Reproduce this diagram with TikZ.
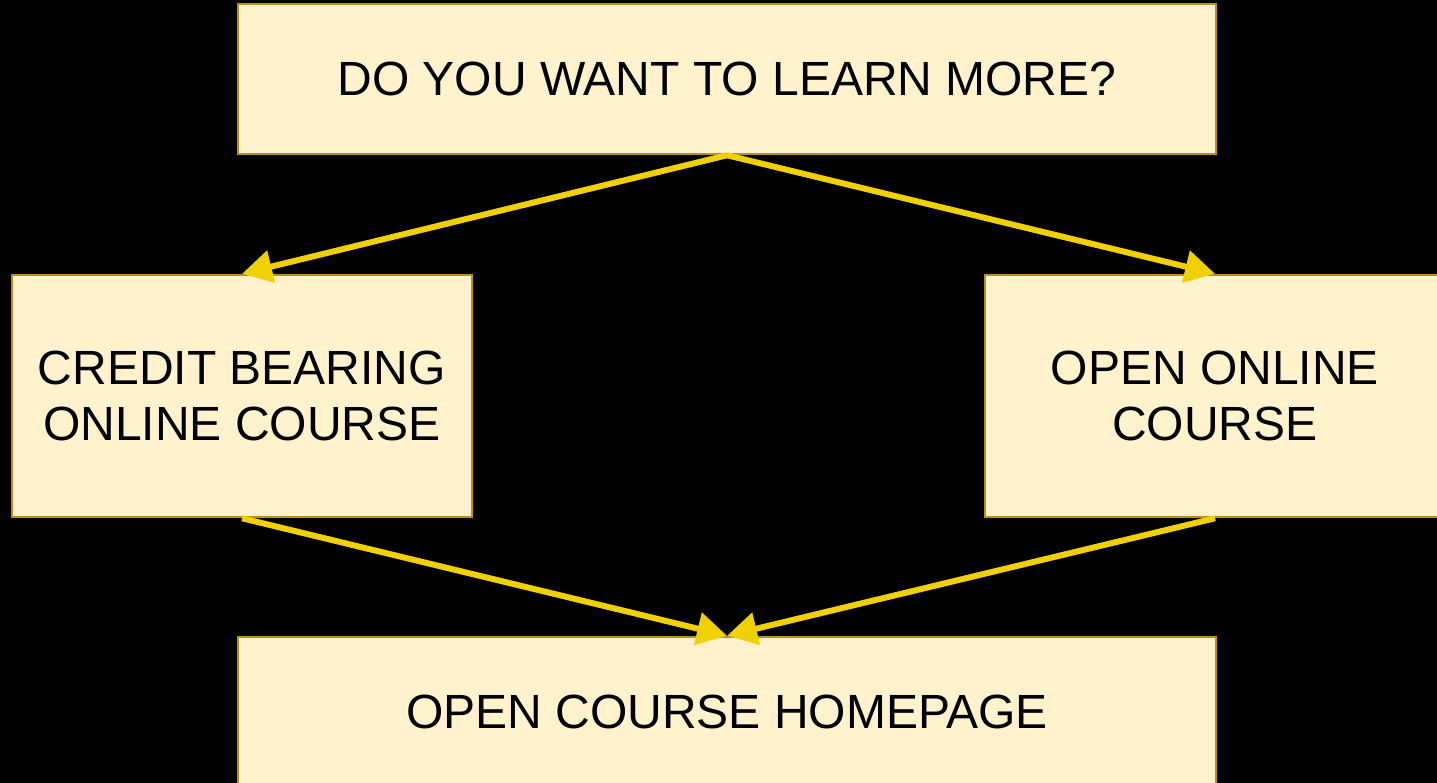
\documentclass[tikz,border=0pt]{standalone}
\usepackage{fontspec}
\setmainfont{Liberation Sans}
\usetikzlibrary{arrows.meta}
\definecolor{boxfill}{HTML}{FFF2CC}
\definecolor{boxline}{HTML}{B8901A}
\definecolor{arrowcol}{HTML}{F0D000}
\tikzset{
  flowbox/.style={draw=boxline, line width=2.5pt, fill=boxfill, rectangle, inner sep=0pt,
    font=\fontsize{48}{56}\selectfont, align=center, text=black},
  flowarrow/.style={draw=arrowcol, line width=6pt, -{Triangle[length=30pt,width=32pt]}}
}
\begin{document}
\begin{tikzpicture}[x=1pt,y=-1pt]
\fill[black] (0,0) rectangle (1437,783);
\useasboundingbox (0,0) rectangle (1437,783);
\clip (0,0) rectangle (1437,783);
\node[flowbox, minimum width=978pt, minimum height=150pt] (top) at (727,79) {DO YOU WANT TO LEARN MORE?};
\node[flowbox, minimum width=460pt, minimum height=242pt] (left) at (242,396) {CREDIT BEARING\\ONLINE COURSE};
\node[flowbox, minimum width=460pt, minimum height=242pt] (right) at (1215,396) {OPEN ONLINE\\COURSE};
\node[flowbox, minimum width=978pt, minimum height=150pt] (bottom) at (727,712) {OPEN COURSE HOMEPAGE};
\draw[flowarrow] (top.south) -- (left.north);
\draw[flowarrow] (top.south) -- (right.north);
\draw[flowarrow] (left.south) -- (bottom.north);
\draw[flowarrow] (right.south) -- (bottom.north);
\end{tikzpicture}
\end{document}
